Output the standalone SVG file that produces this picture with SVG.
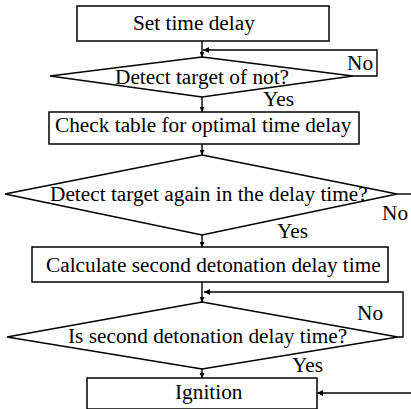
<svg xmlns="http://www.w3.org/2000/svg" width="411" height="409" viewBox="0 0 411 409">
<style>
.box{fill:#fff;stroke:#000;stroke-width:1.5}
.dia{fill:#fff;stroke:#000;stroke-width:1.5}
text{font-family:'Liberation Serif','Times New Roman',Times,serif;font-size:21.3px;fill:#000}
.c{fill:none;stroke:#000;stroke-width:1.4}
</style>
<defs>
<marker id="av" viewBox="0 0 10 10" refX="10" refY="5" markerUnits="userSpaceOnUse" markerWidth="6" markerHeight="5" orient="auto"><path d="M0,0 L10,5 L0,10 z" fill="#000"/></marker>
<marker id="ah" viewBox="0 0 10 10" refX="10" refY="5" markerUnits="userSpaceOnUse" markerWidth="11" markerHeight="6" orient="auto"><path d="M0,0 L10,5 L0,10 z" fill="#000"/></marker>
</defs>
<g id="connectors">
<line class="c" x1="202" y1="41" x2="202" y2="57" marker-end="url(#av)"/>
<polyline class="c" points="353,76 377,76 377,50 203,50" marker-end="url(#ah)"/>
<line class="c" x1="202" y1="97" x2="202" y2="112" marker-end="url(#av)"/>
<line class="c" x1="202" y1="144" x2="202" y2="155" marker-end="url(#av)"/>
<line class="c" x1="397" y1="194" x2="411" y2="194"/>
<line class="c" x1="202" y1="235" x2="202" y2="247" marker-end="url(#av)"/>
<line class="c" x1="202" y1="282" x2="202" y2="302" marker-end="url(#av)"/>
<polyline class="c" points="398,337 403,337 403,292 204,292" marker-end="url(#ah)"/>
<line class="c" x1="202" y1="369" x2="202" y2="378" marker-end="url(#av)"/>
<line class="c" x1="411" y1="393" x2="317" y2="393" marker-end="url(#ah)"/>
</g>
<g id="set-delay">
<rect class="box" x="77" y="6" width="252" height="35"/>
<text x="133" y="30">Set time delay</text>
</g>
<g id="detect-target">
<polygon class="dia" points="202,57 353,76 202,97 50,76"/>
<text x="115" y="84">Detect target of not?</text>
<text x="347" y="70">No</text>
<text x="263" y="106">Yes</text>
</g>
<g id="check-table">
<rect class="box" x="49" y="112" width="310" height="32"/>
<text x="55" y="132">Check table for optimal time delay</text>
</g>
<g id="detect-again">
<polygon class="dia" points="202,155 397,194 202,235 5,194"/>
<text x="50" y="201">Detect target again in the delay time?</text>
<text x="382" y="220">No</text>
<text x="277" y="238">Yes</text>
</g>
<g id="calculate">
<rect class="box" x="32" y="247" width="356" height="35"/>
<text x="46" y="272">Calculate second detonation delay time</text>
</g>
<g id="is-second">
<polygon class="dia" points="202,302 398,337 202,369 7,337"/>
<text x="68" y="343">Is second detonation delay time?</text>
<text x="357" y="320">No</text>
<text x="292" y="372">Yes</text>
</g>
<g id="ignition">
<rect class="box" x="87" y="378" width="230" height="31"/>
<text x="175" y="399">Ignition</text>
</g>
</svg>
